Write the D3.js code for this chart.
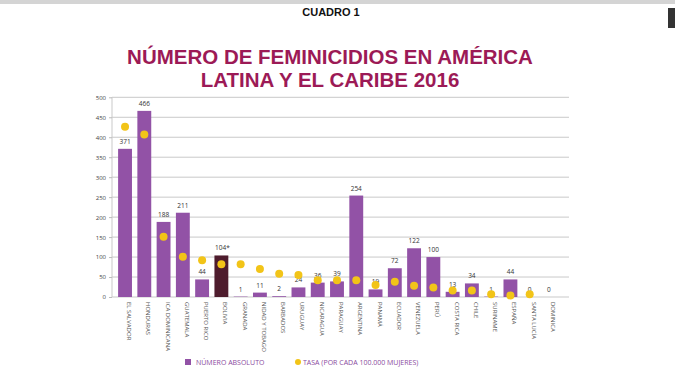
<!DOCTYPE html>
<html><head><meta charset="utf-8">
<script src="https://cdn.jsdelivr.net/npm/d3@7"></script>
<style>body{margin:0;background:#fff;}svg{display:block;}</style>
</head><body>
<script>
const countries = ["EL SALVADOR","HONDURAS","ICA DOMINICANA","GUATEMALA","PUERTO RICO","BOLIVIA","GRANADA","NIDAD Y TOBAGO","BARBADOS","URUGUAY","NICARAGUA","PARAGUAY","ARGENTINA","PANAMÁ","ECUADOR","VENEZUELA","PERÚ","COSTA RICA","CHILE","SURINAME","ESPAÑA","SANTA LUCÍA","DOMINICA"];
const absoluto = [371,466,188,211,44,104,1,11,2,24,36,39,254,19,72,122,100,13,34,1,44,0,0];
const valueLabels = ["371","466","188","211","44","104*","1","11","2","24","36","39","254","19","72","122","100","13","34","1","44","0","0"];
// tasa markers, in the same axis units
const tasa = [426,407,151,101,92,82,82,70,58,55,42,42,42,30,38,28,24,16,16,7,4,7,null];
const yTicks = [0,50,100,150,200,250,300,350,400,450,500];
const titleLines = ["NÚMERO DE FEMINICIDIOS EN AMÉRICA","LATINA Y EL CARIBE 2016"];
const legendLabels = ["NÚMERO ABSOLUTO","TASA (POR CADA 100.000 MUJERES)"];

const W=675,H=378;
const svg=d3.select("body").append("svg").attr("width",W).attr("height",H);
svg.append("rect").attr("x",0).attr("y",0).attr("width",W).attr("height",4).attr("fill","#d4d4d4");
svg.append("rect").attr("x",668).attr("y",8).attr("width",7).attr("height",20).attr("fill","#333");

svg.append("text").attr("x",331).attr("y",16).attr("text-anchor","middle")
  .attr("font-family","Liberation Sans, Arial, sans-serif").attr("font-weight","bold")
  .attr("font-size",11).attr("fill","#111").text("CUADRO 1");

const titles=svg.selectAll("text.title").data(titleLines).enter().append("text").attr("class","title")
  .attr("x",330).attr("y",(d,i)=>64+i*22.5).attr("text-anchor","middle")
  .attr("font-family","Liberation Sans, Arial, sans-serif").attr("font-weight","bold")
  .attr("font-size",20).attr("fill","#9c1a56").text(d=>d);
// fit first line to the reference width (~406px)
const len0=titles.nodes()[0].getComputedTextLength();
const fs=Math.min(20.5,20*406/len0);
titles.attr("font-size",fs);

const x=d3.scaleBand().domain(countries).range([115.4,558.6]).paddingInner(0.28).paddingOuter(0.14);
const y=d3.scaleLinear().domain([0,500]).range([297,97.3]);

// gridlines
svg.append("g").selectAll("line").data(yTicks).enter().append("line")
  .attr("x1",112).attr("x2",569).attr("y1",d=>y(d)).attr("y2",d=>y(d))
  .attr("stroke","#c9c9c9").attr("stroke-width",1);
svg.append("line").attr("x1",112).attr("x2",112).attr("y1",y(500)).attr("y2",y(0)).attr("stroke","#c9c9c9");

const yAxis=svg.append("g").attr("transform","translate(112,0)")
  .call(d3.axisLeft(y).tickValues(yTicks).tickSize(3).tickPadding(3));
yAxis.select(".domain").remove();
yAxis.selectAll("line").attr("stroke","#bbb");
yAxis.selectAll("text").attr("font-family","Open Sans, sans-serif").attr("font-size",6).attr("fill","#444");

// bars
svg.append("g").selectAll("rect").data(countries).enter().append("rect")
  .attr("x",d=>x(d)).attr("width",x.bandwidth())
  .attr("y",(d,i)=>y(absoluto[i])).attr("height",(d,i)=>y(0)-y(absoluto[i]))
  .attr("fill",(d,i)=>d==="BOLIVIA"?"#4e1c2d":"#9252a6");

// value labels
svg.append("g").selectAll("text").data(countries).enter().append("text")
  .attr("x",(d,i)=>x(d)+x.bandwidth()/2+(valueLabels[i].endsWith("*")?1:0))
  .attr("y",(d,i)=>y(absoluto[i])-5).attr("text-anchor","middle")
  .attr("font-family","Open Sans, sans-serif").attr("font-size",6.5).attr("fill","#333")
  .text((d,i)=>valueLabels[i]);

// tasa dots
svg.append("g").selectAll("circle").data(countries.filter((d,i)=>tasa[i]!==null)).enter().append("circle")
  .attr("cx",d=>x(d)+x.bandwidth()/2).attr("cy",d=>y(tasa[countries.indexOf(d)]))
  .attr("r",4).attr("fill","#f2c418");

// x labels
svg.append("g").selectAll("text").data(countries).enter().append("text")
  .attr("transform",d=>`translate(${x(d)+x.bandwidth()/2+2},302) rotate(90)`)
  .attr("font-family","Open Sans, sans-serif").attr("font-size",6).attr("fill","#555")
  .text(d=>d);

// legend
const lg=svg.append("g");
lg.append("rect").attr("x",185).attr("y",359).attr("width",6).attr("height",6).attr("fill","#9252a6");
lg.append("text").attr("x",196).attr("y",365).attr("font-family","Open Sans, sans-serif").attr("font-size",7).attr("fill","#8a4a9e").text(legendLabels[0]);
lg.append("circle").attr("cx",298).attr("cy",362).attr("r",3).attr("fill","#f2c418");
lg.append("text").attr("x",303).attr("y",365).attr("font-family","Open Sans, sans-serif").attr("font-size",7).attr("fill","#8a4a9e").text(legendLabels[1]);
</script>
</body></html>
